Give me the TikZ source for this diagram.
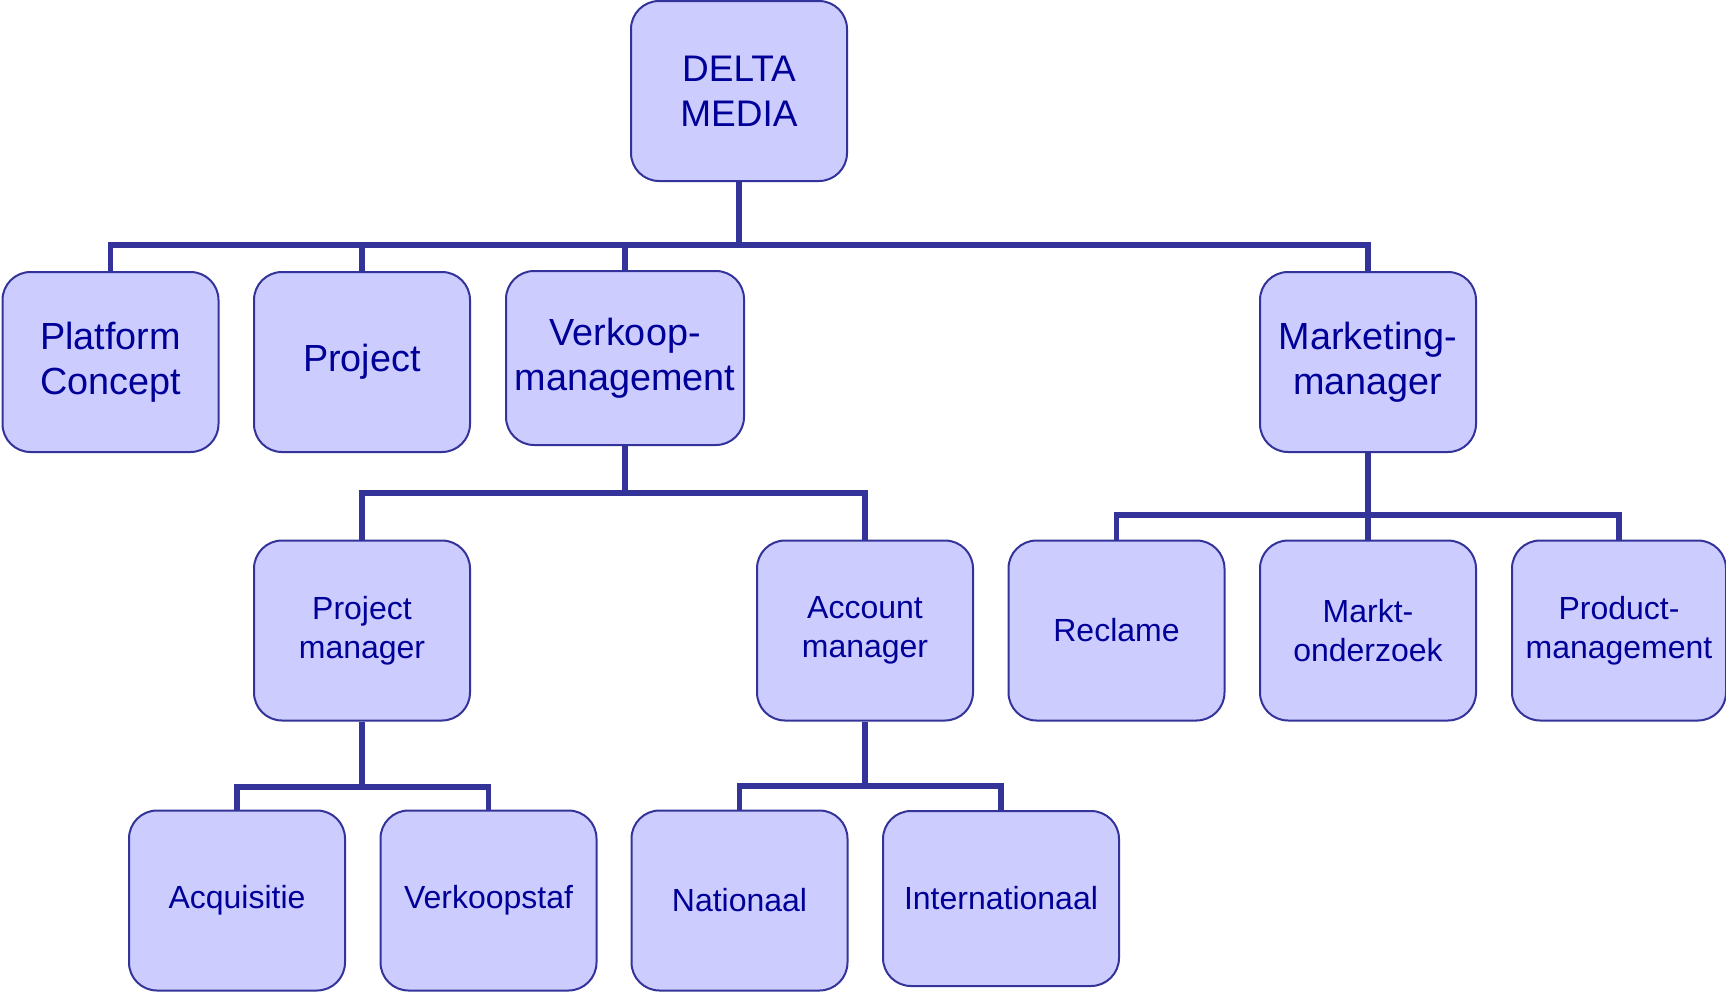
\documentclass[tikz,border=0pt]{standalone}
\usepackage{fontspec}
\setmainfont{Liberation Sans}
\definecolor{boxfill}{HTML}{CCCCFF}
\definecolor{boxline}{HTML}{333399}
\definecolor{boxtext}{HTML}{000099}
\begin{document}
\begin{tikzpicture}[x=0.5pt,y=-0.5pt,
  orgbox/.style={draw=boxline, fill=boxfill, line width=1pt, rounded corners=14pt,
    minimum width=108pt, minimum height=90pt, inner sep=0pt, align=center,
    text=boxtext, anchor=center},
  topfont/.style={font=\fontsize{18.5}{22.5}\selectfont},
  midfont/.style={font=\fontsize{18.9}{22.6}\selectfont},
  lowfont/.style={font=\fontsize{16}{19.6}\selectfont},
  link/.style={draw=boxline, line width=2.6pt}]
\useasboundingbox (0,0) rectangle (1726,992);
% level 1
\node[orgbox,topfont] (delta) at (739,91) {DELTA\\MEDIA};
% level 2
\node[orgbox,midfont] (plat) at (110.5,362) {Platform\\Concept};
\node[orgbox,midfont] (proj) at (362,362) {Project};
\node[orgbox,midfont,minimum width=119pt,minimum height=87pt] (verk) at (625,358) {Verkoop-\\management};
\node[orgbox,midfont] (mark) at (1368,362) {Marketing-\\manager};
% level 3
\node[orgbox,lowfont] (pm) at (362,630.5) {Project\\manager};
\node[orgbox,lowfont] (am) at (865,630.5) {Account\\manager};
\node[orgbox,lowfont] (recl) at (1116.5,630.5) {Reclame};
\node[orgbox,lowfont] (markt) at (1368,630.5) {Markt-\\onderzoek};
\node[orgbox,lowfont,minimum width=107pt] (prod) at (1619,630.5) {Product-\\management};
% level 4
\node[orgbox,lowfont] (acq) at (237,900.5) {Acquisitie};
\node[orgbox,lowfont] (vstaf) at (488.5,900.5) {Verkoopstaf};
\node[orgbox,lowfont] (nat) at (739.5,900.5) {Nationaal};
\node[orgbox,lowfont,minimum width=118pt,minimum height=87.5pt] (intl) at (1001,898.5) {Internationaal};
% bus coordinates
\coordinate (busA) at (0,245);
\coordinate (busB) at (0,493);
\coordinate (busC) at (0,515);
\coordinate (busD) at (0,787);
\coordinate (busE) at (0,786);
% connectors level 1 -> 2
\draw[link] (delta.south) -- (delta.south |- busA);
\draw[link] (plat.north) -- (plat.north |- busA) -- (mark.north |- busA) -- (mark.north);
\draw[link] (proj.north) -- (proj.north |- busA);
\draw[link] (verk.north) -- (verk.north |- busA);
% Verkoop -> level 3
\draw[link] (verk.south) -- (verk.south |- busB);
\draw[link] (pm.north) -- (pm.north |- busB) -- (am.north |- busB) -- (am.north);
% Marketing -> level 3
\draw[link] (mark.south) -- (mark.south |- busC);
\draw[link] (recl.north) -- (recl.north |- busC) -- (prod.north |- busC) -- (prod.north);
\draw[link] (markt.north) -- (markt.north |- busC);
% Project manager -> level 4
\draw[link] (pm.south) -- (pm.south |- busD);
\draw[link] (acq.north) -- (acq.north |- busD) -- (vstaf.north |- busD) -- (vstaf.north);
% Account manager -> level 4
\draw[link] (am.south) -- (am.south |- busE);
\draw[link] (nat.north) -- (nat.north |- busE) -- (intl.north |- busE) -- (intl.north);
\end{tikzpicture}
\end{document}
